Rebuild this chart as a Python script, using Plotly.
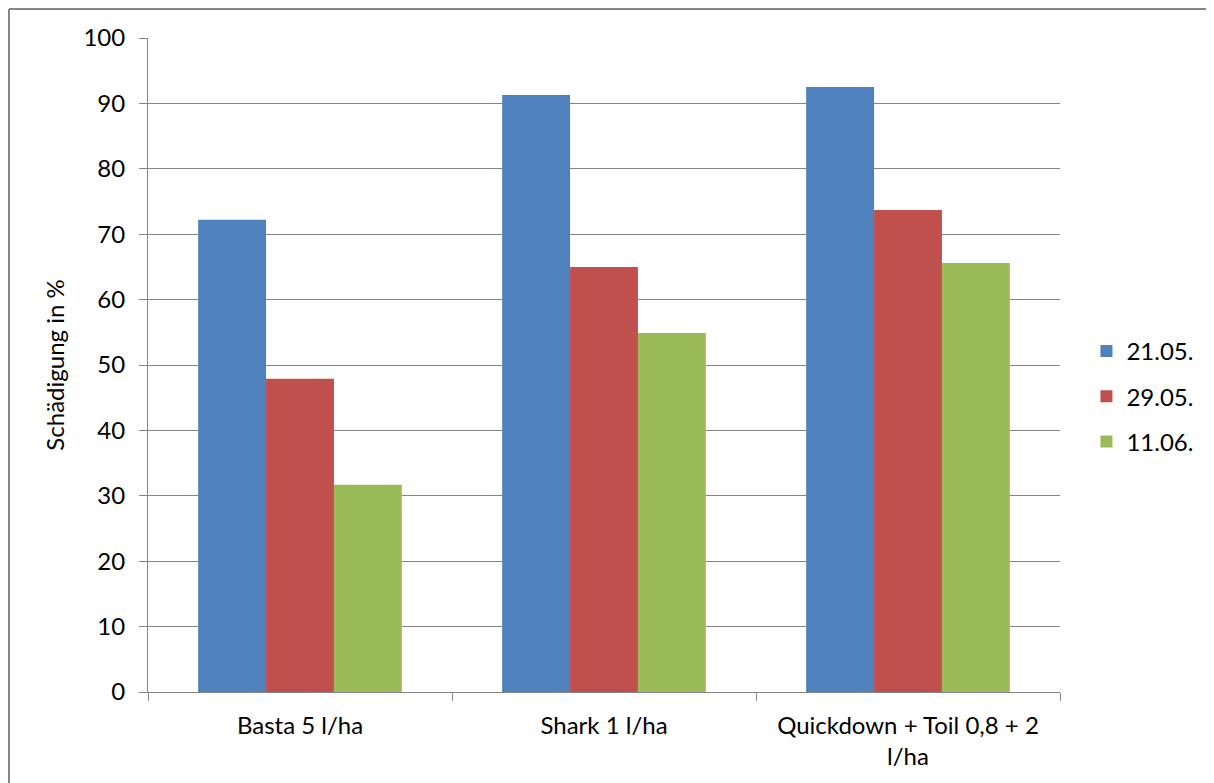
import plotly.graph_objects as go

categories = ["Basta 5 l/ha", "Shark 1 l/ha", "Quickdown + Toil 0,8 + 2<br>l/ha"]
series_names = ["21.05.", "29.05.", "11.06."]
values_2105 = [72.2, 91.3, 92.5]
values_2905 = [47.9, 65.0, 73.7]
values_1106 = [31.7, 54.9, 65.6]
colors = ["#4F81BD", "#C0504D", "#9BBB59"]

fig = go.Figure()
for name, vals, col in zip(series_names, [values_2105, values_2905, values_1106], colors):
    fig.add_trace(go.Bar(name=name, x=categories, y=vals, marker=dict(color=col, line=dict(width=0)),
                         legendgroup=name))

font = "Lato, 'Open Sans', sans-serif"
# page has an 8px body margin, so the figure is drawn 8px smaller
fig.update_layout(
    width=1206, height=775,
    paper_bgcolor="white", plot_bgcolor="white",
    margin=dict(l=140, r=154, t=30, b=91, autoexpand=False),
    barmode="group", bargap=0.33, bargroupgap=0,
    font=dict(family=font, size=24, color="black"),
    showlegend=True,
    legend=dict(x=1.029, y=0.452, xanchor="left", yanchor="middle", font=dict(size=24),
                traceorder="grouped", tracegroupgap=11, itemwidth=30),
    xaxis=dict(showline=True, linecolor="#868686", linewidth=1, ticks="outside", tickson="boundaries",
               ticklen=8, tickcolor="#868686", tickfont=dict(size=24), ticklabelstandoff=12),
    yaxis=dict(range=[0, 100], dtick=10, showgrid=True, gridcolor="#868686", gridwidth=1,
               showline=True, linecolor="#868686", ticks="outside", ticklen=8, tickcolor="#868686",
               tickfont=dict(size=24), zeroline=False, ticklabelstandoff=9,
               title=dict(text="Schädigung in %", font=dict(size=24), standoff=12)),
    shapes=[
        dict(type="line", xref="paper", yref="paper", x0=-0.1524, x1=1.3, y0=1.0443, y1=1.0443,
             line=dict(color="#868686", width=2), layer="below"),
        dict(type="line", xref="paper", yref="paper", x0=-0.1524, x1=-0.1524, y0=-0.3, y1=1.0443,
             line=dict(color="#868686", width=2), layer="below"),
    ],
)
fig.write_html("out.html")
